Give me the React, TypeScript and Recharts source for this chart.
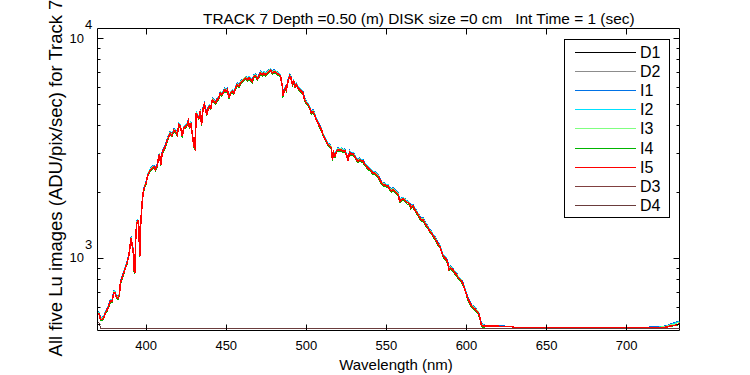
import { LineChart, Line, XAxis, YAxis, ReferenceArea, Legend } from 'recharts'

// plot box edges in page pixels (half pixels keep 1px strokes crisp)
const TOP = 28.5
const BOTTOM = 330.5
const LEFT = 97.5
const RIGHT = 679.5

const FONT = '"Liberation Sans", Arial, Helvetica, sans-serif'

const xTicks = [400, 450, 500, 550, 600, 650, 700]
const yTicks = [500, 600, 700, 800, 900, 1000, 2000, 3000, 4000, 5000, 6000, 7000, 8000, 9000, 10000]

const seriesNames = ['D1', 'D2', 'I1', 'I2', 'I3', 'I4', 'I5', 'D3', 'D4']
const seriesColors = ['#000000', '#8c8c8c', '#0072e6', '#00e1ff', '#80ff80', '#00b400', '#ff0000', '#804040', '#6a3c3c']

// wavelength (nm) of the lit-image samples
const wavelength = [
  370.3, 370.8, 371.4, 372.5, 373.5, 374.6, 375.6, 376.6, 377.7, 378.7,
  379.7, 380.4, 381.3, 382.3, 383.3, 383.9, 385.0, 386.0, 387.0, 388.1,
  389.1, 389.8, 390.6, 391.3, 391.9, 392.3, 392.9, 393.5, 394.1, 394.8,
  395.4, 396.0, 396.6, 397.5, 398.1, 399.1, 400.0, 400.8, 401.6, 402.7,
  403.8, 404.8, 405.8, 406.9, 407.5, 408.3, 409.1, 410.0, 411.0, 411.9,
  413.0, 414.0, 415.0, 416.0, 417.3, 418.3, 419.4, 420.4, 421.4, 422.5,
  423.5, 424.6, 425.6, 426.3, 427.1, 427.9, 429.1, 429.8, 430.4, 431.3,
  432.1, 432.9, 433.8, 434.6, 435.4, 436.3, 437.1, 437.9, 438.8, 439.6,
  440.4, 441.3, 442.3, 443.3, 444.4, 445.4, 446.3, 447.1, 447.9, 449.1,
  450.0, 450.8, 451.6, 452.7, 453.8, 454.8, 455.8, 456.9, 457.9, 458.9,
  460.0, 461.0, 462.1, 463.1, 464.1, 465.2, 466.3, 467.3, 468.3, 469.4,
  470.4, 471.4, 472.5, 473.5, 474.6, 475.6, 476.6, 477.7, 478.8, 479.8,
  480.8, 481.9, 482.9, 483.9, 485.0, 485.4, 486.0, 486.9, 487.5, 488.5,
  489.6, 490.4, 491.3, 492.1, 492.9, 493.8, 494.8, 495.8, 496.9, 497.9,
  498.9, 500.0, 501.0, 502.1, 503.1, 504.1, 505.2, 506.3, 507.3, 508.3,
  509.4, 510.4, 511.4, 512.5, 513.5, 514.6, 515.6, 516.3, 517.1, 517.9,
  518.8, 519.8, 520.8, 521.9, 522.9, 524.0, 525.0, 526.0, 527.1, 528.1,
  529.1, 530.2, 531.3, 532.3, 533.3, 534.4, 535.4, 536.4, 537.5, 538.5,
  539.6, 540.6, 541.6, 542.7, 543.8, 544.8, 545.8, 546.9, 547.9, 549.0,
  550.0, 551.0, 552.1, 553.1, 554.1, 555.2, 556.3, 557.3, 558.3, 559.4,
  560.4, 561.4, 562.5, 563.5, 564.6, 565.2, 565.8, 566.6, 567.7, 568.8,
  569.8, 570.8, 571.9, 573.0, 573.9, 575.0, 576.0, 577.1, 578.1, 579.1,
  580.2, 581.3, 582.3, 583.3, 584.4, 585.4, 586.4, 587.5, 588.5, 589.1,
  590.0, 591.3, 592.7, 593.8, 594.8, 595.8, 596.9, 597.9, 599.0, 600.0,
  601.0, 602.1, 603.1, 604.1, 605.2, 606.3, 607.3, 608.3, 609.4, 610.4,
  612.5, 615, 620, 628, 630, 650, 700, 720, 725, 727, 730, 733,
]

const i1 = [
  571, 563, 536, 536, 547, 575, 590, 615, 648, 648,
  707, 711, 682, 666, 695, 784, 827, 872, 919, 968,
  1040, 1130, 1255, 1153, 1112, 903, 872, 1275, 1469, 1499,
  1418, 1040, 1469, 1816, 2020, 2162, 2234, 2397, 2479, 2570,
  2611, 2642, 2570, 2683, 2856, 3009, 2713, 3060, 3172, 3264,
  3468, 3621, 3774, 3672, 3876, 3835, 3713, 4121, 4039, 3641,
  3978, 4039, 4121, 4264, 3978, 4192, 3580, 3284, 3223, 4651,
  4488, 4417, 4733, 4121, 4814, 5080, 4814, 4570, 4906, 4988,
  4906, 5345, 5253, 5161, 5345, 5447, 5732, 5630, 5732, 5936,
  5834, 5936, 5447, 5732, 5834, 5732, 6049, 6263, 6151, 6375,
  6477, 6589, 6712, 6589, 6712, 6589, 6477, 6824, 6875, 6640,
  6824, 7069, 6946, 7069, 6946, 7069, 7191, 7273, 7069, 7191,
  7120, 7018, 6946, 6824, 6151, 5539, 5834, 6049, 5936, 6477,
  6875, 6712, 6263, 6477, 6151, 6263, 6049, 5936, 5834, 5732,
  5345, 5161, 5080, 4906, 4651, 4733, 4570, 4335, 4192, 4039,
  3907, 3713, 3580, 3458, 3335, 3284, 3223, 2856, 3060, 2958,
  3111, 3172, 3142, 3172, 3111, 3142, 3009, 2856, 3080, 3009,
  3029, 2958, 2856, 2805, 2856, 2805, 2805, 2713, 2662, 2611,
  2570, 2530, 2479, 2479, 2438, 2397, 2315, 2234, 2193, 2193,
  2162, 2162, 2091, 2050, 2091, 2050, 2020, 1979, 1846, 1877,
  1887, 1867, 1826, 1816, 1785, 1724, 1744, 1754, 1693, 1642,
  1601, 1550, 1520, 1520, 1469, 1428, 1397, 1346, 1326, 1285,
  1255, 1214, 1173, 1153, 1091, 1040, 1020, 1002, 952, 903,
  919, 903, 872, 857, 827, 813, 799, 771, 732, 695,
  659, 636, 615, 605, 598, 582, 573, 545, 502, 499,
  491, 491, 490, 489, 484, 483, 483, 485, 492, 500, 508, 515,
]

const i2 = [
  568, 560, 533, 533, 544, 572, 587, 612, 645, 645,
  703, 707, 679, 663, 691, 781, 823, 868, 915, 963,
  1035, 1127, 1248, 1147, 1106, 898, 868, 1269, 1462, 1492,
  1411, 1035, 1462, 1807, 2010, 2152, 2223, 2385, 2466, 2558,
  2598, 2629, 2558, 2669, 2842, 2994, 2700, 3045, 3157, 3248,
  3451, 3603, 3756, 3654, 3857, 3816, 3695, 4101, 4019, 3624,
  3959, 4019, 4101, 4243, 3959, 4172, 3563, 3268, 3207, 4628,
  4466, 4395, 4710, 4101, 4791, 5055, 4791, 4547, 4882, 4963,
  4882, 5319, 5227, 5136, 5319, 5420, 5704, 5603, 5704, 5907,
  5806, 5907, 5420, 5704, 5806, 5704, 6019, 6232, 6120, 6344,
  6445, 6557, 6679, 6557, 6679, 6557, 6445, 6790, 6841, 6608,
  6790, 7034, 6912, 7034, 6912, 7034, 7156, 7237, 7034, 7156,
  7085, 6983, 6912, 6790, 6120, 5511, 5806, 6019, 5907, 6445,
  6841, 6679, 6232, 6445, 6120, 6232, 6019, 5907, 5806, 5704,
  5319, 5136, 5055, 4882, 4628, 4710, 4547, 4314, 4172, 4019,
  3887, 3695, 3563, 3441, 3319, 3268, 3207, 2842, 3045, 2944,
  3096, 3157, 3126, 3157, 3096, 3126, 2994, 2842, 3065, 2994,
  3015, 2944, 2842, 2791, 2842, 2791, 2791, 2700, 2649, 2598,
  2558, 2517, 2466, 2466, 2426, 2385, 2304, 2223, 2182, 2182,
  2152, 2152, 2081, 2040, 2081, 2040, 2010, 1969, 1837, 1868,
  1878, 1857, 1817, 1807, 1776, 1715, 1736, 1746, 1685, 1634,
  1594, 1543, 1512, 1512, 1462, 1421, 1391, 1340, 1320, 1279,
  1248, 1208, 1167, 1147, 1086, 1035, 1015, 997, 947, 898,
  915, 898, 868, 853, 823, 809, 795, 767, 729, 691,
  656, 633, 612, 602, 595, 580, 570, 542, 499, 496,
  490, 490, 489, 488, 483, 483, 483, 484, 490, 497, 504, 512,
]

const i3 = [
  566, 558, 530, 530, 541, 570, 584, 609, 641, 641,
  700, 704, 676, 660, 688, 777, 819, 864, 910, 958,
  1030, 1121, 1242, 1141, 1101, 894, 864, 1263, 1454, 1485,
  1404, 1030, 1454, 1798, 2000, 2141, 2212, 2374, 2454, 2545,
  2586, 2616, 2545, 2656, 2828, 2980, 2687, 3030, 3141, 3232,
  3434, 3586, 3737, 3636, 3838, 3798, 3676, 4080, 4000, 3606,
  3939, 4000, 4080, 4222, 3939, 4151, 3545, 3252, 3192, 4606,
  4444, 4373, 4686, 4080, 4767, 5030, 4767, 4525, 4858, 4939,
  4858, 5292, 5202, 5111, 5292, 5393, 5676, 5575, 5676, 5878,
  5777, 5878, 5393, 5676, 5777, 5676, 5989, 6201, 6090, 6313,
  6414, 6525, 6646, 6525, 6646, 6525, 6414, 6757, 6807, 6575,
  6757, 6999, 6878, 6999, 6878, 6999, 7121, 7201, 6999, 7121,
  7050, 6949, 6878, 6757, 6090, 5484, 5777, 5989, 5878, 6414,
  6807, 6646, 6201, 6414, 6090, 6201, 5989, 5878, 5777, 5676,
  5292, 5111, 5030, 4858, 4606, 4686, 4525, 4293, 4151, 4000,
  3868, 3676, 3545, 3424, 3303, 3252, 3192, 2828, 3030, 2929,
  3081, 3141, 3111, 3141, 3081, 3111, 2980, 2828, 3050, 2980,
  3000, 2929, 2828, 2778, 2828, 2778, 2778, 2687, 2636, 2586,
  2545, 2505, 2454, 2454, 2414, 2374, 2293, 2212, 2172, 2172,
  2141, 2141, 2071, 2030, 2071, 2030, 2000, 1959, 1828, 1858,
  1869, 1848, 1808, 1798, 1768, 1707, 1727, 1737, 1677, 1626,
  1586, 1535, 1505, 1505, 1454, 1414, 1384, 1333, 1313, 1273,
  1242, 1202, 1162, 1141, 1081, 1030, 1010, 992, 942, 894,
  910, 894, 864, 848, 819, 805, 791, 764, 725, 688,
  652, 630, 609, 599, 592, 577, 568, 539, 497, 494,
  490, 490, 489, 488, 483, 482, 482, 483, 488, 495, 500, 510,
]

const i4 = [
  552, 544, 517, 517, 528, 556, 569, 594, 625, 625,
  683, 687, 659, 643, 671, 757, 799, 842, 887, 935,
  1005, 1093, 1212, 1113, 1074, 872, 842, 1231, 1418, 1448,
  1369, 1005, 1418, 1753, 1950, 2088, 2157, 2315, 2394, 2482,
  2522, 2551, 2482, 2591, 2758, 2906, 2620, 2955, 3063, 3152,
  3349, 3497, 3645, 3546, 3743, 3704, 3585, 3979, 3901, 3516,
  3842, 3901, 3979, 4117, 3842, 4048, 3457, 3172, 3113, 4492,
  4334, 4265, 4570, 3979, 4649, 4905, 4649, 4413, 4738, 4817,
  4738, 5161, 5073, 4984, 5161, 5260, 5536, 5437, 5536, 5733,
  5634, 5733, 5260, 5536, 5634, 5536, 5841, 6048, 5940, 6156,
  6255, 6363, 6481, 6363, 6481, 6363, 6255, 6590, 6639, 6412,
  6590, 6826, 6708, 6826, 6708, 6826, 6944, 7023, 6826, 6944,
  6875, 6777, 6708, 6590, 5940, 5349, 5634, 5841, 5733, 6255,
  6639, 6481, 6048, 6255, 5940, 6048, 5841, 5733, 5634, 5536,
  5161, 4984, 4905, 4738, 4492, 4570, 4413, 4186, 4048, 3901,
  3773, 3585, 3457, 3339, 3221, 3172, 3113, 2758, 2955, 2857,
  3004, 3063, 3034, 3063, 3004, 3034, 2906, 2758, 2975, 2906,
  2925, 2857, 2758, 2709, 2758, 2709, 2709, 2620, 2571, 2522,
  2482, 2443, 2394, 2394, 2354, 2315, 2236, 2157, 2118, 2118,
  2088, 2088, 2019, 1980, 2019, 1980, 1950, 1911, 1783, 1812,
  1822, 1803, 1763, 1753, 1724, 1665, 1684, 1694, 1635, 1586,
  1546, 1497, 1468, 1468, 1418, 1379, 1349, 1300, 1281, 1241,
  1212, 1172, 1133, 1113, 1054, 1005, 985, 967, 919, 872,
  887, 872, 842, 827, 799, 785, 771, 745, 707, 671,
  636, 615, 594, 584, 577, 562, 554, 526, 485, 482,
  487, 486, 485, 485, 481, 481, 481, 481, 482, 488, 490, 497,
]

const i5 = [
  560, 552, 525, 525, 536, 564, 578, 603, 635, 635,
  693, 697, 669, 653, 681, 769, 811, 855, 901, 949,
  1020, 1110, 1230, 1130, 1090, 885, 855, 1250, 1440, 1470,
  1390, 1020, 1440, 1780, 1980, 2120, 2190, 2350, 2430, 2520,
  2560, 2590, 2520, 2630, 2800, 2950, 2660, 3000, 3110, 3200,
  3400, 3550, 3700, 3600, 3800, 3760, 3640, 4040, 3960, 3570,
  3900, 3960, 4040, 4180, 3900, 4110, 3510, 3220, 3160, 4560,
  4400, 4330, 4640, 4040, 4720, 4980, 4720, 4480, 4810, 4890,
  4810, 5240, 5150, 5060, 5240, 5340, 5620, 5520, 5620, 5820,
  5720, 5820, 5340, 5620, 5720, 5620, 5930, 6140, 6030, 6250,
  6350, 6460, 6580, 6460, 6580, 6460, 6350, 6690, 6740, 6510,
  6690, 6930, 6810, 6930, 6810, 6930, 7050, 7130, 6930, 7050,
  6980, 6880, 6810, 6690, 6030, 5430, 5720, 5930, 5820, 6350,
  6740, 6580, 6140, 6350, 6030, 6140, 5930, 5820, 5720, 5620,
  5240, 5060, 4980, 4810, 4560, 4640, 4480, 4250, 4110, 3960,
  3830, 3640, 3510, 3390, 3270, 3220, 3160, 2800, 3000, 2900,
  3050, 3110, 3080, 3110, 3050, 3080, 2950, 2800, 3020, 2950,
  2970, 2900, 2800, 2750, 2800, 2750, 2750, 2660, 2610, 2560,
  2520, 2480, 2430, 2430, 2390, 2350, 2270, 2190, 2150, 2150,
  2120, 2120, 2050, 2010, 2050, 2010, 1980, 1940, 1810, 1840,
  1850, 1830, 1790, 1780, 1750, 1690, 1710, 1720, 1660, 1610,
  1570, 1520, 1490, 1490, 1440, 1400, 1370, 1320, 1300, 1260,
  1230, 1190, 1150, 1130, 1070, 1020, 1000, 982, 933, 885,
  901, 885, 855, 840, 811, 797, 783, 756, 718, 681,
  646, 624, 603, 593, 586, 571, 562, 534, 492, 489,
  489, 489, 488, 487, 482, 482, 482, 482, 483, 490, 492, 500,
]

// dark frames: flat, only a small step at the very start
const darkWavelength = [370, 370.8, 371.6, 733]
const d1 = [508, 505, 476, 476]
const d2 = [507, 504, 476, 477]
const d3 = [508, 505, 476, 476]
const d4 = [507, 505, 476, 476]

const spectrumData = wavelength.map((w, k) => ({
  w,
  I1: i1[k],
  I2: i2[k],
  I3: i3[k],
  I4: i4[k],
  I5: i5[k],
}))

const darkData = darkWavelength.map((w, k) => ({ w, D1: d1[k], D2: d2[k], D3: d3[k], D4: d4[k] }))

// aliased strokes, like the original export
const crisp = { shapeRendering: 'crispEdges' } as const

function XTick({ x, payload }: any) {
  const px = Math.floor(x) + 0.5
  return (
    <g>
      <line x1={px} x2={px} y1={BOTTOM} y2={BOTTOM - 6} stroke="#000" />
      <line x1={px} x2={px} y1={TOP} y2={TOP + 6} stroke="#000" />
      <text x={x} y={350} textAnchor="middle" fontFamily={FONT} fontSize={13} fill="#000">
        {payload.value}
      </text>
    </g>
  )
}

function YTick({ y, payload }: any) {
  const v = payload.value
  const major = v === 1000 || v === 10000
  const len = major ? 6 : 3
  const py = Math.round(y) + 0.5
  return (
    <g>
      <line x1={LEFT} x2={LEFT + len} y1={py} y2={py} stroke="#000" />
      <line x1={RIGHT - len} x2={RIGHT} y1={py} y2={py} stroke="#000" />
      {major && (
        <>
          <text x={84} y={y + 4.5} textAnchor="end" fontFamily={FONT} fontSize={13} fill="#000">
            10
          </text>
          <text x={85} y={y - 9} fontFamily={FONT} fontSize={13} fill="#000">
            {v === 1000 ? 3 : 4}
          </text>
        </>
      )}
    </g>
  )
}

function LegendBox() {
  return (
    <svg width={107} height={180} style={{ display: 'block' }}>
      <rect x={0.5} y={0.5} width={105} height={178} fill="#fff" stroke="#000" />
      {seriesNames.map((name, k) => {
        const ly = Math.round(12.7 + 19.17 * k) + 0.5
        return (
          <g key={name}>
            <line x1={11} x2={72} y1={ly} y2={ly} stroke={seriesColors[k]} strokeWidth={1} style={crisp} />
            <text x={76} y={ly + 5.5} fontFamily={FONT} fontSize={16} fill="#000">
              {name}
            </text>
          </g>
        )
      })}
    </svg>
  )
}

export default function App() {
  return (
    <div style={{ position: 'absolute', left: 0, top: 0, width: 750, height: 375, background: '#fff' }}>
      <LineChart width={750} height={375} margin={{ top: TOP, right: 750 - RIGHT, bottom: 24.5, left: 67.5 }}>
        <XAxis
          dataKey="w"
          type="number"
          domain={[369.6, 733]}
          allowDataOverflow
          ticks={xTicks}
          interval={0}
          height={20}
          axisLine={false}
          tickLine={false}
          tick={<XTick />}
        />
        <YAxis
          type="number"
          scale="log"
          domain={[467, 11050]}
          allowDataOverflow
          ticks={yTicks}
          interval={0}
          width={30}
          axisLine={false}
          tickLine={false}
          tick={<YTick />}
        />
        <ReferenceArea x1={369.6} x2={733} y1={467} y2={11050} fill="none" stroke="#000" strokeWidth={1} />
        <Legend
          layout="vertical"
          align="center"
          verticalAlign="middle"
          wrapperStyle={{ left: 564, top: 39, width: 107, height: 180 }}
          content={() => <LegendBox />}
        />
        <Line data={darkData} dataKey="D1" name="D1" stroke={seriesColors[0]} strokeWidth={1} dot={false} style={crisp} isAnimationActive={false} />
        <Line data={darkData} dataKey="D2" name="D2" stroke={seriesColors[1]} strokeWidth={1} dot={false} style={crisp} isAnimationActive={false} />
        <Line data={spectrumData} dataKey="I1" name="I1" stroke={seriesColors[2]} strokeWidth={1} dot={false} style={crisp} isAnimationActive={false} />
        <Line data={spectrumData} dataKey="I2" name="I2" stroke={seriesColors[3]} strokeWidth={1} dot={false} style={crisp} isAnimationActive={false} />
        <Line data={spectrumData} dataKey="I3" name="I3" stroke={seriesColors[4]} strokeWidth={1} dot={false} style={crisp} isAnimationActive={false} />
        <Line data={spectrumData} dataKey="I4" name="I4" stroke={seriesColors[5]} strokeWidth={1} dot={false} style={crisp} isAnimationActive={false} />
        <Line data={spectrumData} dataKey="I5" name="I5" stroke={seriesColors[6]} strokeWidth={1.6} dot={false} style={crisp} isAnimationActive={false} />
        <Line data={darkData} dataKey="D3" name="D3" stroke={seriesColors[7]} strokeWidth={1} dot={false} style={crisp} isAnimationActive={false} />
        <Line data={darkData} dataKey="D4" name="D4" stroke={seriesColors[8]} strokeWidth={1} dot={false} style={crisp} isAnimationActive={false} />
      </LineChart>
      <svg width={750} height={375} style={{ position: 'absolute', left: 0, top: 0, pointerEvents: 'none' }}>
        <text x={203} y={24} fontFamily={FONT} fontSize={15.4} fill="#000" style={{ whiteSpace: 'pre' }}>
          TRACK 7 Depth =0.50 (m) DISK size =0 cm   Int Time = 1 (sec)
        </text>
        <text x={396} y={370} textAnchor="middle" fontFamily={FONT} fontSize={15} fill="#000">
          Wavelength (nm)
        </text>
        <text
          transform="translate(62,178) rotate(-90)"
          textAnchor="middle"
          fontFamily={FONT}
          fontSize={18.5}
          fill="#000"
        >
          All five Lu images (ADU/pix/sec) for Track 7
        </text>
      </svg>
    </div>
  )
}
